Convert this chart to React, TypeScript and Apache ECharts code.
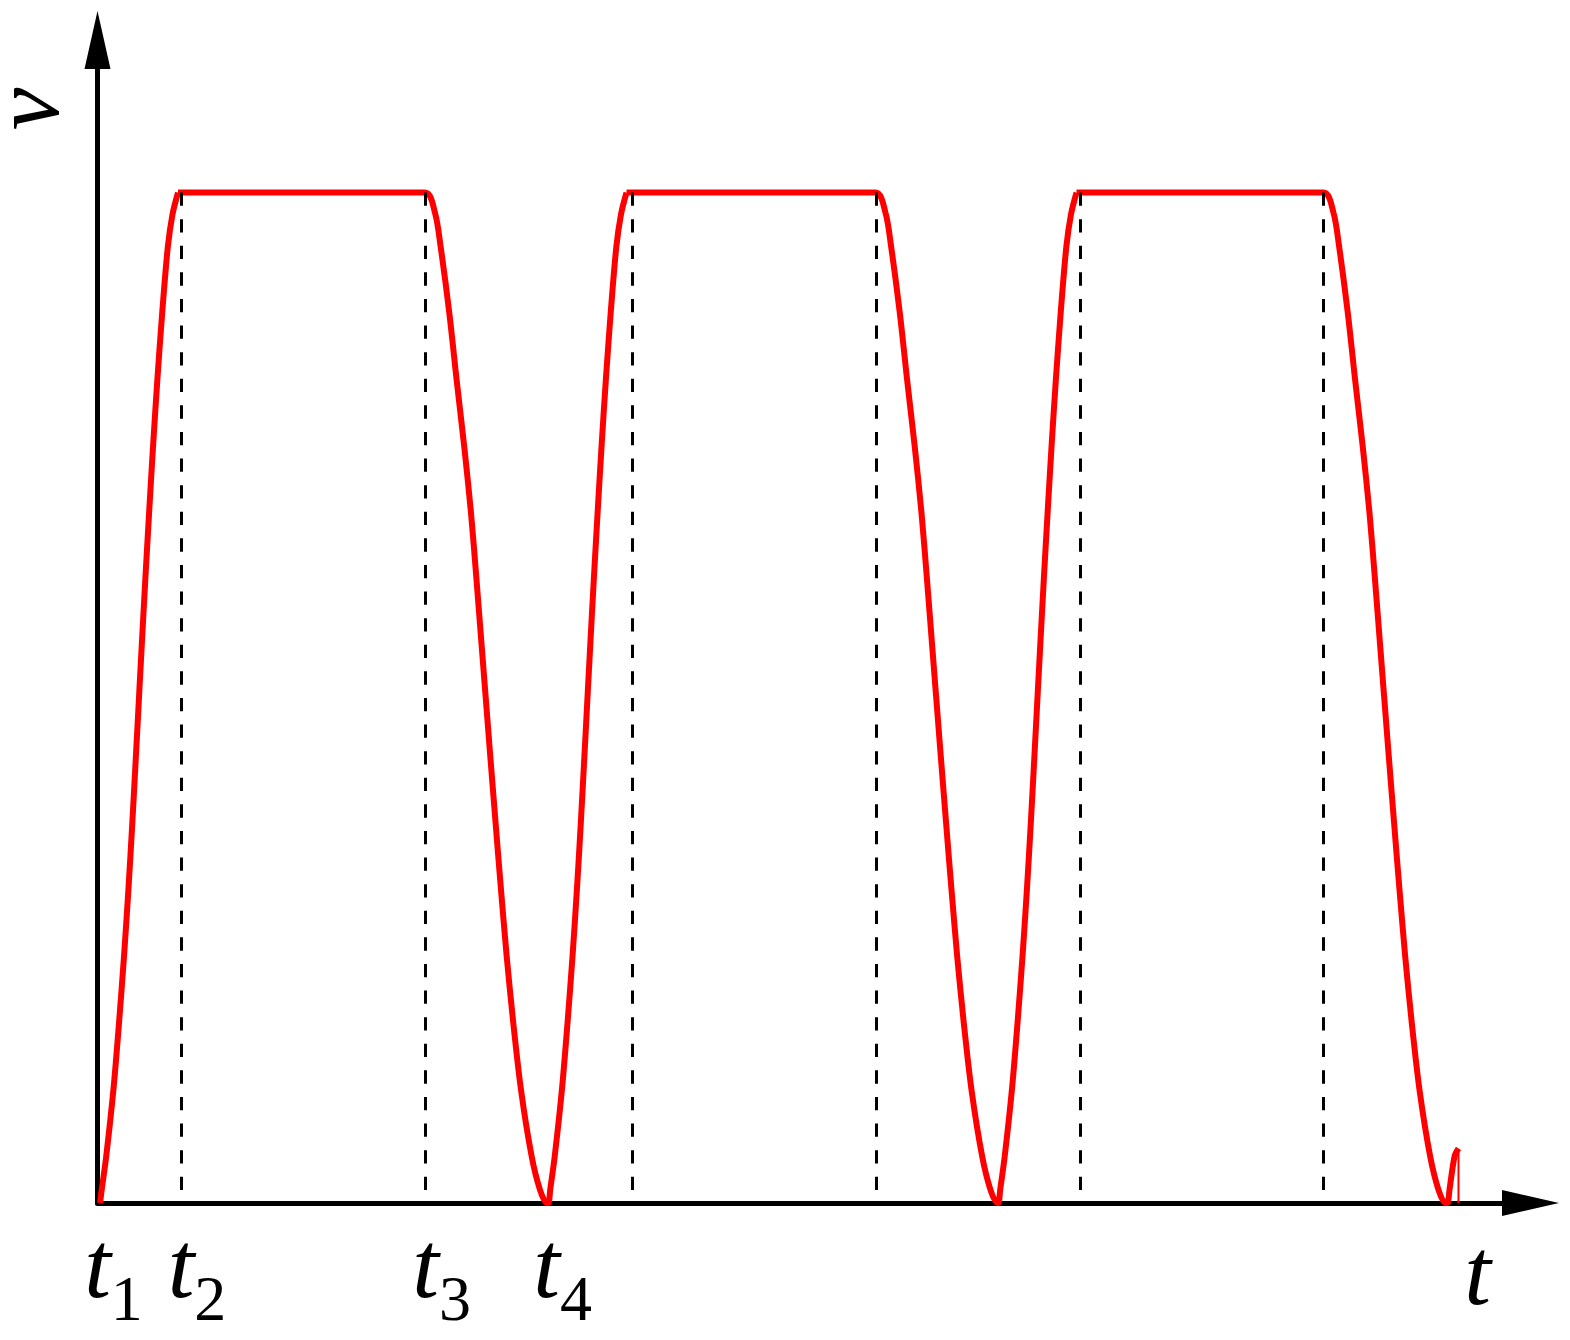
import React, { useEffect, useRef } from "react";
import * as echarts from "echarts";

// ---- data (time in axis units, v in % of plateau) ----
const riseT = [0, 1.7, 6.2, 13.4, 19.0, 24.0, 28.4, 32.3, 35.9, 39.4, 41.7, 45.3, 49.1, 53.0, 57.3, 62.2, 67.8, 72.6, 78];
const riseV = [0, 1.3, 4.6, 11.2, 17.8, 24.4, 31.0, 37.6, 44.2, 50.8, 55.1, 61.7, 68.3, 74.8, 81.4, 88.1, 94.6, 97.9, 100];
const fallT = [0, 10, 15.7, 24.3, 31.7, 39.3, 46, 51.5, 56.7, 60.1, 65.3, 70.6, 76, 81.7, 88.3, 96, 106.7, 115, 121.7];
const fallV = [100, 98, 94.6, 88.1, 81.4, 74.8, 68.3, 61.7, 55.1, 50.8, 44.2, 37.6, 31.0, 24.4, 17.8, 11.2, 4.6, 1.3, 0];
const riseStarts = [2.5, 451, 901];
const fallStarts = [327.5, 778, 1226];
const tailT = [1350, 1352, 1357, 1361];
const tailV = [0, 1.3, 4.6, 5.4];
const dropT = [1361, 1361];
const dropV = [5.2, 0];
const dashT = [83.5, 328.2, 534.5, 778.5, 982.5, 1225.5];
const tickValues = [0, 83.5, 328.2, 449.2];
const tickSubs = ["1", "2", "3", "4"];
const xMax = 1433;
const yMax = 115.1;

const FONT = '"Liberation Serif", "Times New Roman", serif';

export default function App() {
  const ref = useRef<HTMLDivElement>(null);
  useEffect(() => {
    if (!ref.current) return;
    const chart = echarts.init(ref.current, null, { renderer: "svg" });
    const curve: (number | string)[][] = [];
    for (let c = 0; c < riseStarts.length; c++) {
      riseT.forEach((t, i) => curve.push([riseStarts[c] + t, riseV[i]]));
      const topT = riseStarts[c] + riseT[riseT.length - 1];
      // break the smoothing at the sharp corner where the plateau begins
      curve.push([topT, "-"]);
      curve.push([topT, riseV[riseV.length - 1]]);
      fallT.forEach((t, i) => curve.push([fallStarts[c] + t, fallV[i]]));
    }
    tailT.forEach((t, i) => curve.push([t, tailV[i]]));
    const drop = dropT.map((t, i) => [t, dropV[i]]);

    chart.setOption({
      animation: false,
      backgroundColor: "#fff",
      grid: {
        left: 97.5,
        right: 39.5,
        top: 40,
        bottom: 137,
        containLabel: false,
        outerBoundsMode: "none",
      },
      xAxis: {
        type: "value",
        min: 0,
        max: xMax,
        axisLine: {
          show: true,
          symbol: ["none", "triangle"],
          symbolSize: [26, 57],
          lineStyle: { color: "#000", width: 5 },
        },
        axisTick: { show: false },
        splitLine: { show: false },
        axisLabel: {
          show: true,
          customValues: tickValues,
          margin: 13,
          formatter: (val: number) => {
            const i = tickValues.findIndex((v) => Math.abs(v - val) < 1e-6);
            return `{sp| }{t|t}{s|${tickSubs[i < 0 ? 0 : i]}}`;
          },
          rich: {
            sp: { width: 32, fontSize: 64, fontFamily: FONT, verticalAlign: "top" },
            t: { fontSize: 96, fontStyle: "italic", fontFamily: FONT, color: "#000", verticalAlign: "top" },
            s: { fontSize: 64, fontFamily: FONT, color: "#000", verticalAlign: "top", padding: [50, 0, 0, 0] },
          },
        },
        name: "t",
        nameLocation: "end",
        nameGap: -53,
        nameTextStyle: {
          fontFamily: FONT,
          fontStyle: "italic",
          fontSize: 96,
          color: "#000",
          align: "center",
          verticalAlign: "top",
          padding: [20, 0, 0, 0],
        },
      },
      yAxis: {
        type: "value",
        min: 0,
        max: yMax,
        axisLine: {
          show: true,
          symbol: ["none", "triangle"],
          symbolSize: [26, 58],
          lineStyle: { color: "#000", width: 5 },
        },
        axisTick: { show: false },
        axisLabel: { show: false },
        splitLine: { show: false },
        name: "v",
        nameLocation: "end",
        nameRotate: 90,
        nameGap: -69,
        nameTextStyle: {
          fontFamily: FONT,
          fontStyle: "italic",
          fontSize: 96,
          color: "#000",
          align: "center",
          verticalAlign: "bottom",
          padding: [0, 0, 24, 0],
        },
      },
      series: [
        {
          type: "line",
          data: curve,
          showSymbol: false,
          connectNulls: false,
          clip: false,
          smooth: 0.3,
          lineStyle: { color: "#ff0000", width: 6, join: "round" },
          z: 3,
          markLine: {
            silent: true,
            symbol: ["none", "none"],
            label: { show: false },
            lineStyle: { color: "#000", width: 3, type: [13.3, 13.3] },
            data: dashT.map((t) => [{ coord: [t, 100] }, { coord: [t, 0] }]),
          },
        },
        {
          type: "line",
          data: drop,
          showSymbol: false,
          clip: false,
          lineStyle: { color: "#ff0000", width: 2 },
          z: 3,
        },
      ],
    });
    return () => chart.dispose();
  }, []);
  return (
    <div
      ref={ref}
      style={{ position: "fixed", left: 0, top: 0, width: 1570, height: 1340, background: "#fff" }}
    />
  );
}
